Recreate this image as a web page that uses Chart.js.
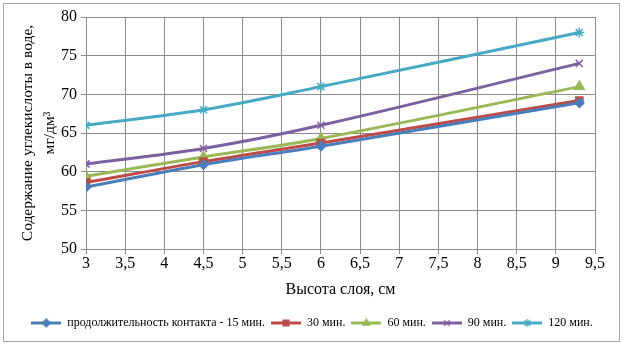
<!DOCTYPE html>
<html>
<head>
<meta charset="utf-8">
<script src="https://cdn.jsdelivr.net/npm/chart.js@4"></script>
<style>
  body { margin: 0; background: #fff; }
  #wrap { position: relative; width: 624px; height: 346px; }
  #frame { position: absolute; left: 3px; top: 3px; width: 615px; height: 337px; border: 1px solid #a6a6a6; pointer-events: none; }
</style>
</head>
<body>
<div id="wrap">
  <canvas id="co2Chart" width="624" height="346"></canvas>
  <div id="frame"></div>
</div>
<script>
const heights = [3, 4.5, 6, 9.3];
const min15 = [58, 60.9, 63.3, 68.9];
const min30 = [58.6, 61.3, 63.7, 69.2];
const min60 = [59.4, 61.9, 64.3, 71];
const min90 = [61, 63, 66, 74];
const min120 = [66, 68, 71, 78];

const seriesNames = ['продолжительность контакта - 15 мин.', '30 мин.', '60 мин.', '90 мин.', '120 мин.'];
const seriesColors = ['#4a7ebb', '#be4b48', '#98b954', '#7d60a0', '#46aac5'];
const seriesMarkers = ['rectRot', 'rect', 'triangle', 'crossRot', 'star'];
const markerSizes = [4.5, 5, 5.5, 5, 5];

const allSeries = [min15, min30, min60, min90, min120];

// small line+marker pictures for the legend
function legendIcon(color, marker) {
    const c = document.createElement('canvas');
    c.width = 30; c.height = 12;
    const g = c.getContext('2d');
    g.strokeStyle = color;
    g.fillStyle = color;
    g.lineWidth = 3;
    g.beginPath(); g.moveTo(0, 6); g.lineTo(30, 6); g.stroke();
    g.lineWidth = 1.3;
    Chart.helpers.drawPoint(g, {pointStyle: marker, radius: 4, rotation: 0, borderWidth: 1.3}, 15, 6);
    return c;
}

const datasets = allSeries.map((vals, i) => ({
    label: seriesNames[i],
    data: vals.map((v, j) => ({x: heights[j], y: v})),
    borderColor: seriesColors[i],
    backgroundColor: seriesColors[i],
    borderWidth: 3,
    pointStyle: seriesMarkers[i],
    pointRadius: markerSizes[i],
    pointBorderWidth: 1.5,
    tension: 0.35,
    fill: false,
}));

const serif = 'Liberation Serif';

new Chart(document.getElementById('co2Chart'), {
    type: 'line',
    data: { datasets: datasets },
    options: {
        responsive: false,
        animation: false,
        layout: { padding: { left: 0, right: 0, top: 17, bottom: 7 } },
        plugins: {
            tooltip: { enabled: false },
            legend: {
                position: 'bottom',
                labels: {
                    usePointStyle: true,
                    pointStyleWidth: 30,
                    padding: 6,
                    color: '#000',
                    font: { family: serif, size: 12 },
                    generateLabels: (chart) => {
                        const items = Chart.defaults.plugins.legend.labels.generateLabels(chart);
                        items.forEach((it, i) => { it.pointStyle = legendIcon(seriesColors[i], seriesMarkers[i]); });
                        return items;
                    }
                }
            }
        },
        scales: {
            x: {
                type: 'linear',
                min: 3,
                max: 9.5,
                ticks: {
                    stepSize: 0.5,
                    color: '#000',
                    font: { family: serif, size: 16 },
                    padding: 0,
                    maxRotation: 0,
                    callback: (v) => String(v).replace('.', ',')
                },
                grid: { color: '#8c8c8c', tickLength: 5 },
                border: { color: '#8c8c8c' },
                title: {
                    display: true,
                    text: 'Высота слоя, см',
                    color: '#000',
                    font: { family: serif, size: 16 },
                    padding: { top: 0, bottom: 12 }
                },
                afterFit: (s) => { s.height = 62; }
            },
            y: {
                min: 50,
                max: 80,
                ticks: {
                    stepSize: 5,
                    color: '#000',
                    font: { family: serif, size: 16 },
                    padding: 4
                },
                grid: { color: '#8c8c8c', tickLength: 5 },
                border: { color: '#8c8c8c' },
                title: {
                    display: true,
                    text: ['Содержание углекислоты в воде,', 'мг/дм³'],
                    color: '#000',
                    font: { family: serif, size: 15.5, lineHeight: 1.42 },
                    padding: { top: 17, bottom: 0 }
                },
                afterFit: (s) => { s.width = 86; }
            },
            // empty right margin for the plot only, so the legend stays centred on the page
            rightGap: {
                position: 'right',
                display: true,
                ticks: { display: false },
                grid: { display: false },
                border: { display: false },
                afterFit: (s) => { s.width = 29; }
            }
        }
    }
});
</script>
</body>
</html>
